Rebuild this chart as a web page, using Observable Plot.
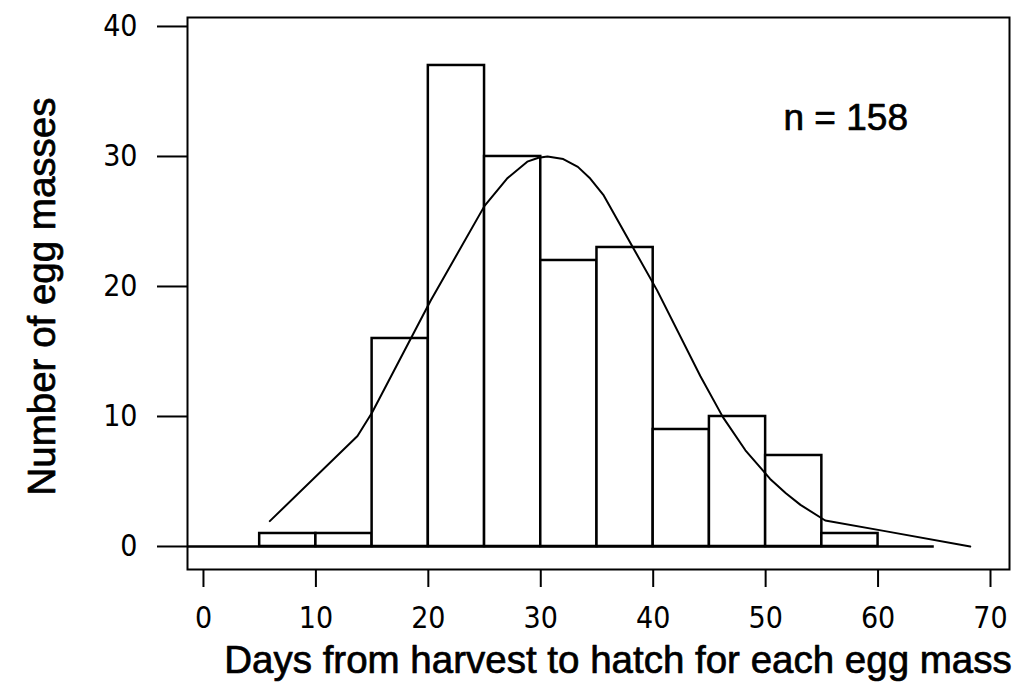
<!DOCTYPE html>
<html><head><meta charset="utf-8">
<script src="https://cdn.jsdelivr.net/npm/d3@7"></script>
<script src="https://cdn.jsdelivr.net/npm/@observablehq/plot@0.6"></script>
<style>
body{margin:0;background:#fff}
#chart svg [aria-label="x-axis tick"] path,
#chart svg [aria-label="y-axis tick"] path,
#chart svg [aria-label="x-axis"] path,
#chart svg [aria-label="y-axis"] path{stroke-width:2px}
</style>
</head><body><div id="chart"></div>
<script>
// Histogram bins (days) and counts
const binStart = [5, 10, 15, 20, 25, 30, 35, 40, 45, 50, 55, 60];
const binEnd   = [10, 15, 20, 25, 30, 35, 40, 45, 50, 55, 60, 65];
const counts   = [1, 1, 16, 37, 30, 22, 23, 9, 10, 7, 1, 0];

// Fitted curve
const curveX = [5.9, 13.7, 15, 20.2, 25, 27, 28.8, 29.8, 30.6, 32, 33.3, 34.4, 35.6, 38.2, 40.35, 44.2, 46.2, 48.2, 50.4, 51.8, 53.1, 55.3, 60.5, 68.2];
const curveY = [1.95, 8.5, 10.3, 18.9, 26.2, 28.3, 29.6, 29.9, 30.0, 29.8, 29.2, 28.3, 27.0, 23.0, 19.7, 13.1, 9.95, 7.4, 5.2, 4.1, 3.2, 2.0, 1.2, 0];

const xTicks = [0, 10, 20, 30, 40, 50, 60, 70];
const yTicks = [0, 10, 20, 30, 40];
const nLabel = "n = 158";
const xTitle = "Days from harvest to hatch for each egg mass";
const yTitle = "Number of egg masses";

const bars = binStart.map((s, i) => ({x1: s, x2: binEnd[i], y: counts[i]}));
const curvePts = curveX.map((x, i) => ({x, y: curveY[i]}));
const xDomain = [-1.42, 71.69];
const yDomain = [-1.77, 40.69];
const titleFont = "Liberation Sans, Arial, Helvetica, sans-serif";

const chart = Plot.plot({
  width: 1014,
  height: 690,
  marginLeft: 187,
  marginRight: 5,
  marginTop: 17,
  marginBottom: 121,
  style: {
    fontFamily: "'Liberation Sans Narrow', 'DejaVu Sans Condensed', sans-serif",
    fontSize: "30px",
    background: "white",
    color: "black"
  },
  x: {domain: xDomain, ticks: xTicks, tickSize: 18, tickPadding: 19, label: null, tickFormat: d => String(d)},
  y: {domain: yDomain, ticks: yTicks, tickSize: 30, tickPadding: 20, label: null, tickFormat: d => String(d)},
  marks: [
    Plot.rect(bars, {x1: "x1", x2: "x2", y1: 0, y2: "y", fill: "white", stroke: "black", strokeWidth: 2.5}),
    Plot.ruleY([0], {x1: () => xDomain[0], x2: () => binEnd[binEnd.length - 1], stroke: "black", strokeWidth: 2.5}),
    Plot.line(curvePts, {x: "x", y: "y", curve: "linear", stroke: "black", strokeWidth: 2}),
    Plot.frame({stroke: "black", strokeWidth: 2}),
    Plot.text([nLabel], {frameAnchor: "top-left", dx: 596, dy: 86, textAnchor: "start", fontSize: 37, fontFamily: titleFont, fill: "black", stroke: "black", strokeWidth: 0.7}),
    Plot.text([xTitle], {frameAnchor: "bottom", dx: 19.5, dy: 103, textAnchor: "middle", fontSize: 38.5, fontFamily: titleFont, fill: "black", stroke: "black", strokeWidth: 0.7}),
    Plot.text([yTitle], {frameAnchor: "left", dx: -145, dy: 3, rotate: -90, textAnchor: "middle", fontSize: 38.5, fontFamily: titleFont, fill: "black", stroke: "black", strokeWidth: 0.7})
  ]
});
document.getElementById("chart").appendChild(chart);
</script>
</body></html>
